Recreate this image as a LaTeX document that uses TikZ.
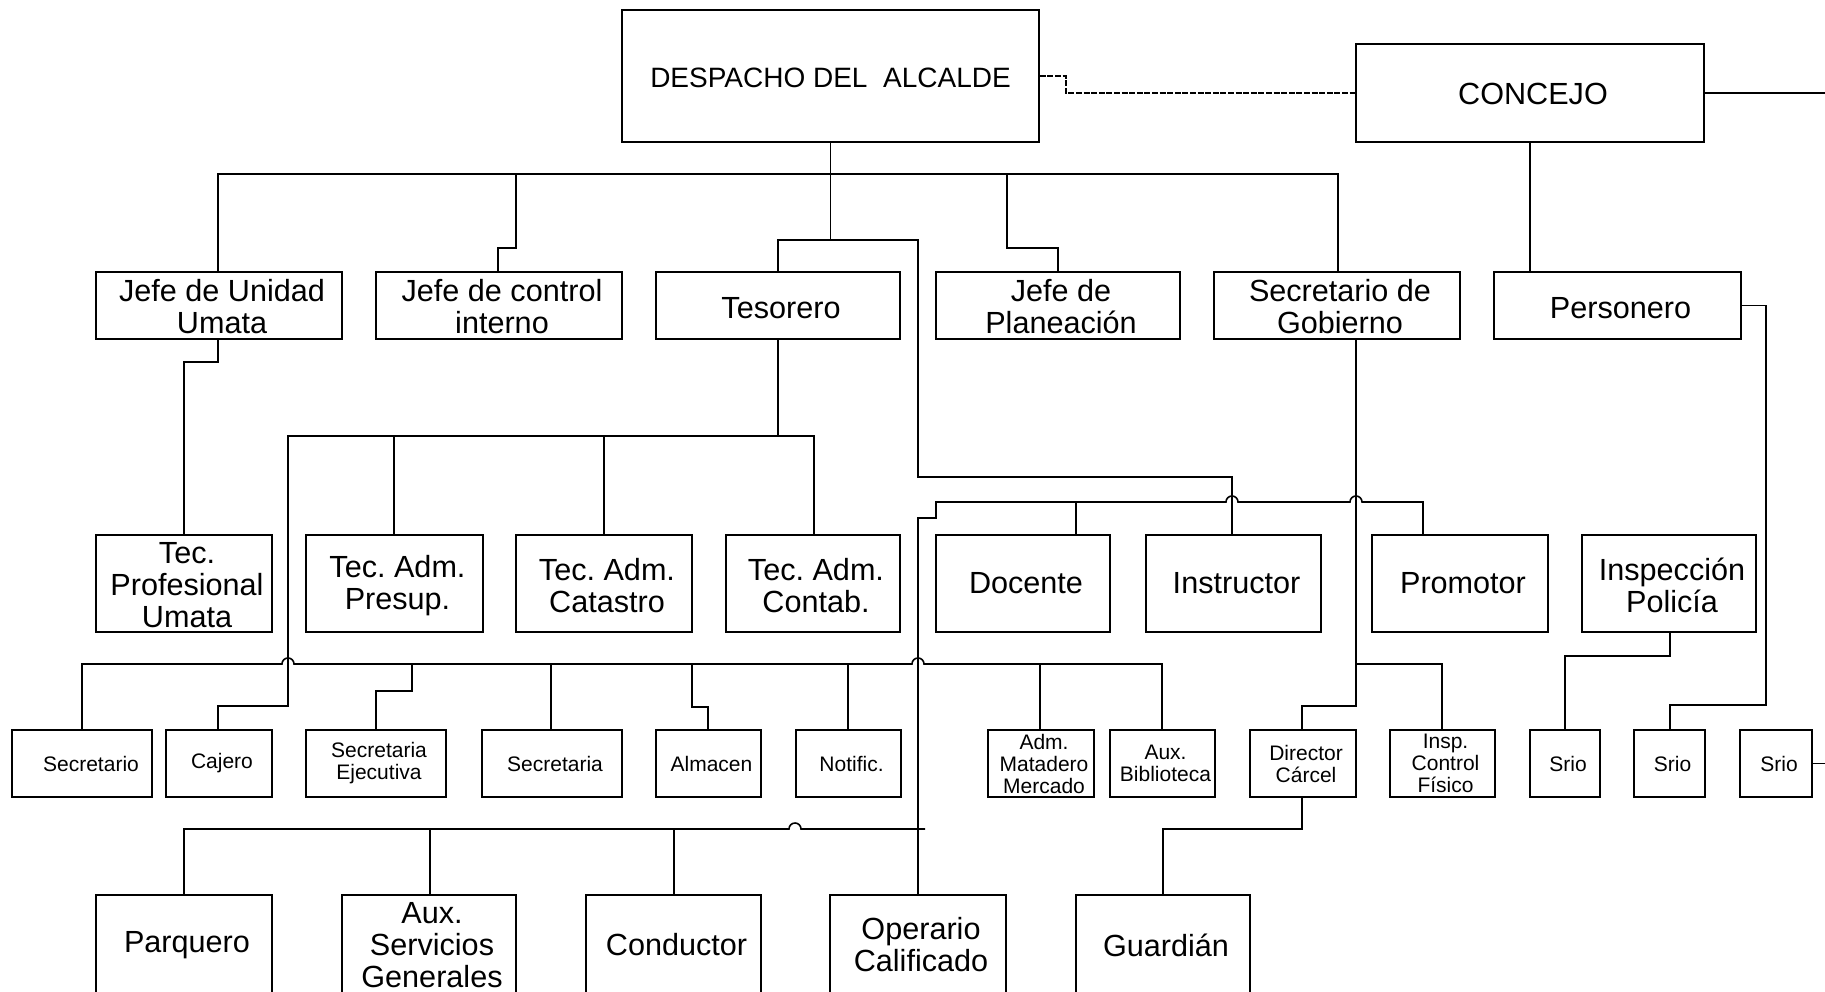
\documentclass[tikz,border=0pt]{standalone}
\usepackage{fontspec}
\setmainfont{Liberation Sans}
\frenchspacing
\newcommand\bx[7][]{%
  \node[box, minimum width={(#5-#3)*0.5pt}, minimum height={(#6-#4)*0.5pt}] (#2) at ({(#3+#5)/2},{(#4+#6)/2}) {};
  \node[txt,#1] (#2t) at (#2.center) {#7};}
\begin{document}
\begin{tikzpicture}[x=0.5pt,y=-0.5pt, line width=0.8pt,
  box/.style={draw, line width=0.8pt, inner sep=0pt, rectangle},
  txt/.style={inner sep=0pt, align=center, xshift=1.5pt, font=\fontsize{15.3}{16}\selectfont},
  small/.style={font=\fontsize{10.5}{11}\selectfont},
  low/.style={yshift=-1.5pt}]
\useasboundingbox (0,0) rectangle (1825,991);
\clip (0,0) rectangle (1825,991);
% row 0
\bx[font=\fontsize{14}{16}\selectfont, xshift=-1.5pt, yshift=-1pt]{despacho}{622}{10}{1039}{142}{DESPACHO DEL\ \ ALCALDE}
\bx[yshift=-0.5pt]{concejo}{1356}{44}{1704}{142}{CONCEJO}
% row 1
\bx[yshift=-0.5pt]{jefeU}{96}{272}{342}{339}{Jefe de Unidad\\Umata}
\bx[yshift=-0.5pt]{control}{376}{272}{622}{339}{Jefe de control\\interno}
\bx[low]{tes}{656}{272}{900}{339}{Tesorero}
\bx[yshift=-0.5pt]{plan}{936}{272}{1180}{339}{Jefe de\\Planeación}
\bx[yshift=-0.5pt]{secgob}{1214}{272}{1460}{339}{Secretario de\\Gobierno}
\bx[low]{pers}{1494}{272}{1741}{339}{Personero}
% row 2
\bx[yshift=-1pt]{tecprof}{96}{535}{272}{632}{Tec.\\Profesional\\Umata}
\bx[yshift=-1pt]{presup}{306}{535}{483}{632}{Tec. Adm.\\Presup.}
\bx[yshift=-1pt]{catastro}{516}{535}{692}{632}{Tec. Adm.\\Catastro}
\bx[yshift=-1pt]{contab}{726}{535}{900}{632}{Tec. Adm.\\Contab.}
\bx{docente}{936}{535}{1110}{632}{Docente}
\bx{instr}{1146}{535}{1321}{632}{Instructor}
\bx{promotor}{1372}{535}{1548}{632}{Promotor}
\bx[yshift=-1pt]{insp}{1582}{535}{1756}{632}{Inspección\\Policía}
% row 3
\bx[small, xshift=3pt]{secretario}{12}{730}{152}{797}{Secretario}
\bx[small]{cajero}{166}{730}{272}{797}{Cajero}
\bx[small]{secej}{306}{730}{446}{797}{Secretaria\\Ejecutiva}
\bx[small]{secretaria}{482}{730}{622}{797}{Secretaria}
\bx[small]{almacen}{656}{730}{761}{797}{Almacen}
\bx[small]{notific}{796}{730}{901}{797}{Notific.}
\bx[small]{admmat}{988}{730}{1094}{797}{Adm.\\Matadero\\Mercado}
\bx[small]{auxbib}{1110}{730}{1215}{797}{Aux.\\Biblioteca}
\bx[small]{director}{1250}{730}{1356}{797}{Director\\Cárcel}
\bx[small]{inspcf}{1390}{730}{1495}{797}{Insp.\\Control\\Físico}
\bx[small]{srioA}{1530}{730}{1600}{797}{Srio}
\bx[small]{srioB}{1634}{730}{1705}{797}{Srio}
\bx[small]{srioC}{1740}{730}{1812}{797}{Srio}
% row 4
\bx{parquero}{96}{895}{272}{995}{Parquero}
\bx{auxsg}{342}{895}{516}{995}{Aux.\\Servicios\\Generales}
\bx{conductor}{586}{895}{761}{995}{Conductor}
\bx{operario}{830}{895}{1006}{995}{Operario\\Calificado}
\bx{guardian}{1076}{895}{1250}{995}{Guardián}
% connectors: top
\draw (despacho.south) -- (830.5,240);
\draw (218,0 |- jefeU.north) -- (218,174) -- (1338,174) -- (1338,0 |- secgob.north);
\draw (516,174) -- (516,248) -- (498,248) -- (498,0 |- control.north);
\draw (1007,174) -- (1007,248) -- (1058,248) -- (1058,0 |- plan.north);
\draw (778,0 |- tes.north) -- (778,240) -- (918,240) -- (918,477) -- (1232,477) -- (1232,0 |- instr.north);
\draw[dash pattern=on 3pt off 0.8pt] (despacho.east) -- (1066,76) -- (1066,93) -- (concejo.west);
\draw (concejo.east) -- (1825,93);
\draw (1530,0 |- concejo.south) -- (1530,0 |- pers.north);
\draw (pers.east) -- (1766,305.5) -- (1766,705) -- (1670,705) -- (1670,0 |- srioB.north);
% Umata
\draw (218,0 |- jefeU.south) -- (218,362) -- (184,362) -- (184,0 |- tecprof.north);
% Tesorero
\draw (778,0 |- tes.south) -- (778,436);
\draw (814,0 |- contab.north) -- (814,436) -- (288,436) -- (288,706) -- (218,706) -- (218,0 |- cajero.north);
\draw (394,436) -- (394,0 |- presup.north);
\draw (604,436) -- (604,0 |- catastro.north);
% lower bus
\draw (82,0 |- secretario.north) -- (82,664) -- (282,664) arc[start angle=180,end angle=0,radius=3pt]
  -- (912,664) arc[start angle=180,end angle=0,radius=3pt] -- (1162,664) -- (1162,0 |- auxbib.north);
\draw (412,664) -- (412,691) -- (376,691) -- (376,0 |- secej.north);
\draw (551,664) -- (551,0 |- secretaria.north);
\draw (692,664) -- (692,707) -- (708,707) -- (708,0 |- almacen.north);
\draw (848,664) -- (848,0 |- notific.north);
\draw (1040,664) -- (1040,0 |- admmat.north);
% docente bus
\draw (1423,0 |- promotor.north) -- (1423,502) -- (1362,502) arc[start angle=0,end angle=180,radius=3pt]
  -- (1238,502) arc[start angle=0,end angle=180,radius=3pt] -- (936,502) -- (936,518) -- (918,518) -- (918,0 |- operario.north);
\draw (1076,502) -- (1076,0 |- docente.north);
% bottom bus
\draw (184,0 |- parquero.north) -- (184,829) -- (789,829) arc[start angle=180,end angle=0,radius=3pt] -- (925,829);
\draw (430,829) -- (430,0 |- auxsg.north);
\draw (674,829) -- (674,0 |- conductor.north);
% secretario de gobierno
\draw (1356,0 |- secgob.south) -- (1356,706) -- (1302,706) -- (1302,0 |- director.north);
\draw (1356,664) -- (1442,664) -- (1442,0 |- inspcf.north);
\draw (1302,0 |- director.south) -- (1302,829) -- (1163,829) -- (1163,0 |- guardian.north);
% inspeccion
\draw (1670,0 |- insp.south) -- (1670,656) -- (1565,656) -- (1565,0 |- srioA.north);
\draw (srioC.east) -- (1825,763.5);
\end{tikzpicture}
\end{document}
